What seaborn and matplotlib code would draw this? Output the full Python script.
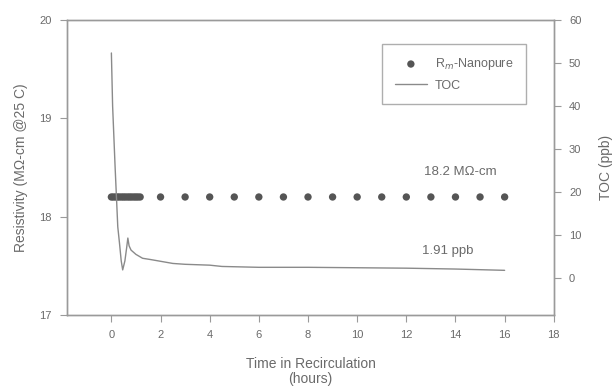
import numpy as np
import pandas as pd
from matplotlib import pyplot as plt
import seaborn as sns

# resistivity samples (hours, MOhm-cm)
res_time = [0, 0.08, 0.17, 0.25, 0.33, 0.42, 0.5, 0.58, 0.67, 0.75, 0.83, 0.92, 1.0, 1.08, 1.17,
            2, 3, 4, 5, 6, 7, 8, 9, 10, 11, 12, 13, 14, 15, 16]
res_value = [18.2] * len(res_time)

# TOC trace (hours, ppb)
toc_time = [0.0, 0.05, 0.15, 0.26, 0.33, 0.40, 0.46, 0.55, 0.62, 0.67, 0.72, 0.8, 1.0, 1.27,
            1.6, 1.9, 2.5, 3.0, 4.0, 4.5, 6.0, 8.0, 10.0, 12.0, 14.0, 15.0, 16.0]
toc_value = [52.3, 40.0, 26.0, 11.9, 8.1, 4.0, 1.9, 4.0, 7.0, 9.3, 7.5, 6.5, 5.5, 4.6,
             4.3, 4.0, 3.4, 3.2, 3.0, 2.7, 2.5, 2.5, 2.4, 2.3, 2.1, 1.95, 1.8]

res_df = pd.DataFrame({'time': res_time, 'res': res_value})
toc_df = pd.DataFrame({'time': toc_time, 'toc': toc_value})

sns.set_style('ticks')
plt.rcParams['font.family'] = ['Liberation Sans', 'DejaVu Sans']

grey_txt = '#6a6a6a'
grey_ax = '#9a9a9a'

fig = plt.figure(figsize=(6.16, 3.89), dpi=100)
ax = fig.add_axes([0.109, 0.190, 0.790, 0.759])
ax2 = ax.twinx()

sns.scatterplot(data=res_df, x='time', y='res', ax=ax, color='#555555', s=28,
                edgecolor='none', label='R$_{m}$-Nanopure', legend=False, zorder=3)
sns.lineplot(data=toc_df, x='time', y='toc', ax=ax2, color='#8a8a8a', lw=1.0,
             label='TOC', legend=False)

ax.set_xlim(-1.8, 18)
ax.set_ylim(17, 20)
ax2.set_ylim(-8.6, 60)
ax.set_xticks(range(0, 19, 2))
ax.set_yticks([17, 18, 19, 20])
ax2.set_yticks(range(0, 61, 10))

for a in (ax, ax2):
    for sp in a.spines.values():
        sp.set_color(grey_ax)
        sp.set_linewidth(1.0)
    a.tick_params(colors=grey_ax, labelcolor=grey_txt, labelsize=8, length=5, width=0.8, pad=6)

ax.set_xlabel('Time in Recirculation\n(hours)', fontsize=10, color=grey_txt, labelpad=12,
              linespacing=1.05)
ax.set_ylabel('Resistivity (M\u03a9-cm @25 C)', fontsize=10, color=grey_txt, labelpad=8)
ax2.set_ylabel('TOC (ppb)', fontsize=10, color=grey_txt, labelpad=13)

ax.text(14.2, 18.45, '18.2 M\u03a9-cm', fontsize=9.5, color=grey_txt, ha='center', va='center')
ax.text(13.7, 17.65, '1.91 ppb', fontsize=9.5, color=grey_txt, ha='center', va='center')

h1, l1 = ax.get_legend_handles_labels()
h2, l2 = ax2.get_legend_handles_labels()
leg = ax2.legend(h1 + h2, l1 + l2, loc='upper right', bbox_to_anchor=(0.955, 0.94),
                 fontsize=9, frameon=True, fancybox=False, borderpad=1.0,
                 handlelength=2.6, labelspacing=0.6, handletextpad=0.6)
leg.get_frame().set_edgecolor(grey_ax)
leg.get_frame().set_linewidth(1.0)
for t in leg.get_texts():
    t.set_color(grey_txt)

fig.savefig('out.png', dpi=100)
